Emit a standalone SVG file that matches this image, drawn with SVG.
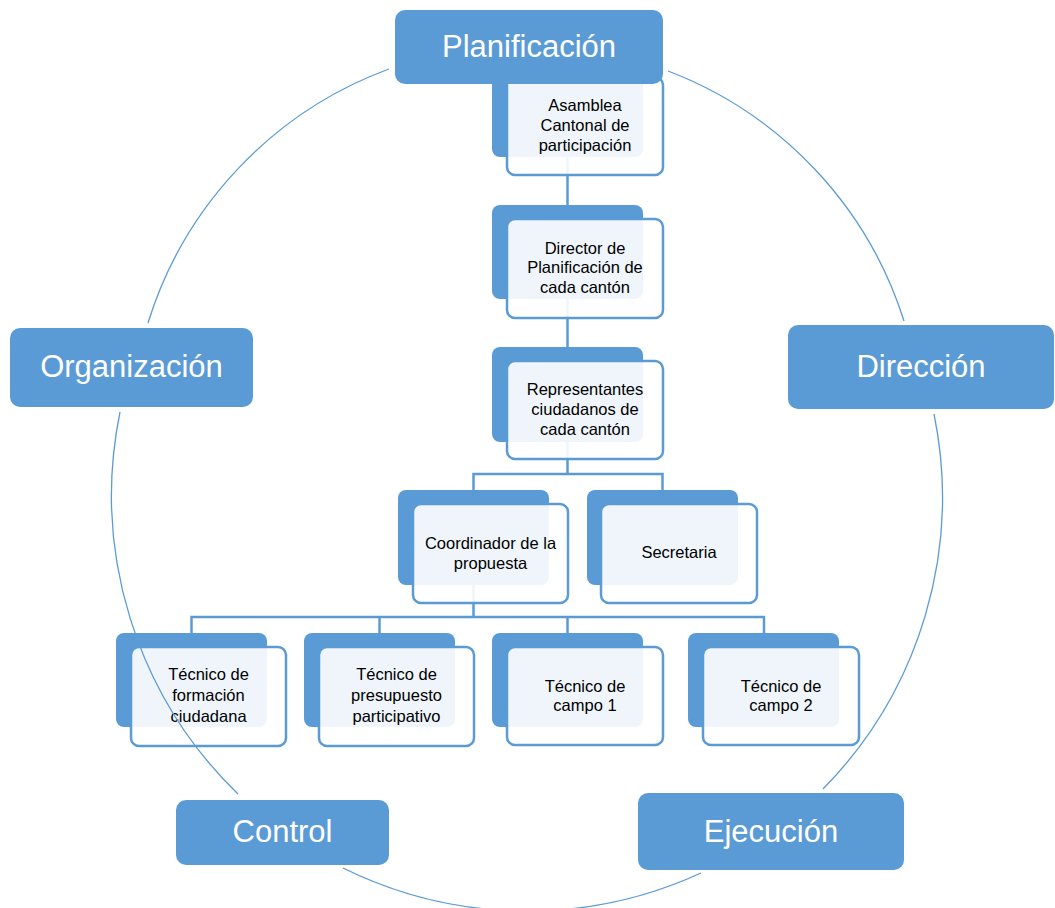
<svg xmlns="http://www.w3.org/2000/svg" width="1055" height="908" viewBox="0 0 1055 908">
<style>
.phase rect{fill:#5b9bd5}
.phase text{font-family:"Liberation Sans",Arial,sans-serif;font-size:31px;fill:#ffffff;text-anchor:middle}
.back{fill:#5b9bd5}
.front{fill:#ffffff;fill-opacity:0.9;stroke:#5b9bd5;stroke-width:2.5}
.lbl{font-family:"Liberation Sans",Arial,sans-serif;font-size:16.5px;fill:#000000;text-anchor:middle}
.conn{stroke:#5b9bd5;stroke-width:2.5;fill:none}
.arc{stroke:#5b9bd5;stroke-width:1.3;fill:none}
</style>
<rect width="1055" height="908" fill="#ffffff"/>
<g id="connectors">
<path class="conn" d="M567.5,157 V205 M567.5,299 V347 M567.5,442 V474 M473.5,490 V474 H662.5 V490 M473.5,585 V617 M191.5,633 V617 H764 V633 M379.5,617 V633 M567.5,617 V633"/>
</g>
<g id="n-asamblea">
<rect class="back" x="492" y="62" width="151" height="95" rx="8"/>
<rect class="front" x="507" y="77" width="156" height="98" rx="8"/>
<text class="lbl" x="585" y="111">Asamblea</text>
<text class="lbl" x="585" y="131">Cantonal de</text>
<text class="lbl" x="585" y="151">participación</text>
</g>
<g id="n-director">
<rect class="back" x="492" y="205" width="151" height="94" rx="8"/>
<rect class="front" x="507" y="219" width="156" height="99" rx="8"/>
<text class="lbl" x="585" y="254">Director de</text>
<text class="lbl" x="585" y="273">Planificación de</text>
<text class="lbl" x="585" y="293">cada cantón</text>
</g>
<g id="n-representantes">
<rect class="back" x="492" y="347" width="151" height="95" rx="8"/>
<rect class="front" x="507" y="361" width="156" height="98" rx="8"/>
<text class="lbl" x="585" y="395">Representantes</text>
<text class="lbl" x="585" y="415">ciudadanos de</text>
<text class="lbl" x="585" y="435">cada cantón</text>
</g>
<g id="n-coordinador">
<rect class="back" x="398" y="490" width="151" height="95" rx="8"/>
<rect class="front" x="413" y="504" width="155" height="99" rx="8"/>
<text class="lbl" x="490.5" y="549">Coordinador de la</text>
<text class="lbl" x="490.5" y="569">propuesta</text>
</g>
<g id="n-secretaria">
<rect class="back" x="587" y="490" width="151" height="95" rx="8"/>
<rect class="front" x="601" y="504" width="156" height="99" rx="8"/>
<text class="lbl" x="679" y="558">Secretaria</text>
</g>
<g id="n-tec-formacion">
<rect class="back" x="116" y="633" width="151" height="94" rx="8"/>
<rect class="front" x="131" y="647" width="155" height="99" rx="8"/>
<text class="lbl" x="208.5" y="680">Técnico de</text>
<text class="lbl" x="208.5" y="701">formación</text>
<text class="lbl" x="208.5" y="722">ciudadana</text>
</g>
<g id="n-tec-presupuesto">
<rect class="back" x="304" y="633" width="151" height="94" rx="8"/>
<rect class="front" x="319" y="647" width="155" height="99" rx="8"/>
<text class="lbl" x="396.5" y="680">Técnico de</text>
<text class="lbl" x="396.5" y="701">presupuesto</text>
<text class="lbl" x="396.5" y="722">participativo</text>
</g>
<g id="n-tec-campo1">
<rect class="back" x="492" y="633" width="151" height="94" rx="8"/>
<rect class="front" x="507" y="647" width="156" height="98" rx="8"/>
<text class="lbl" x="585" y="692">Técnico de</text>
<text class="lbl" x="585" y="711">campo 1</text>
</g>
<g id="n-tec-campo2">
<rect class="back" x="688" y="633" width="151" height="94" rx="8"/>
<rect class="front" x="703" y="647" width="156" height="98" rx="8"/>
<text class="lbl" x="781" y="692">Técnico de</text>
<text class="lbl" x="781" y="711">campo 2</text>
</g>
<g id="cycle-arcs">
<path class="arc" d="M148,323 A395,395 0 0 1 389,69"/>
<path class="arc" d="M668,71 A395,395 0 0 1 904,321"/>
<path class="arc" d="M934,414 A416,416 0 0 1 823,789"/>
<path class="arc" d="M701,873 A416,416 0 0 1 343,868"/>
<path class="arc" d="M238,794 A416,416 0 0 1 120,412"/>
</g>
<g id="p-planificacion" class="phase">
<rect x="395" y="10" width="268" height="74" rx="10"/>
<text x="529" y="57">Planificación</text>
</g>
<g id="p-organizacion" class="phase">
<rect x="10" y="328" width="243" height="79" rx="10"/>
<text x="131.5" y="377">Organización</text>
</g>
<g id="p-direccion" class="phase">
<rect x="788" y="325" width="266" height="84" rx="10"/>
<text x="921" y="377">Dirección</text>
</g>
<g id="p-control" class="phase">
<rect x="176" y="800" width="213" height="65" rx="10"/>
<text x="282.5" y="842">Control</text>
</g>
<g id="p-ejecucion" class="phase">
<rect x="638" y="793" width="266" height="77" rx="10"/>
<text x="771" y="842">Ejecución</text>
</g>
</svg>
